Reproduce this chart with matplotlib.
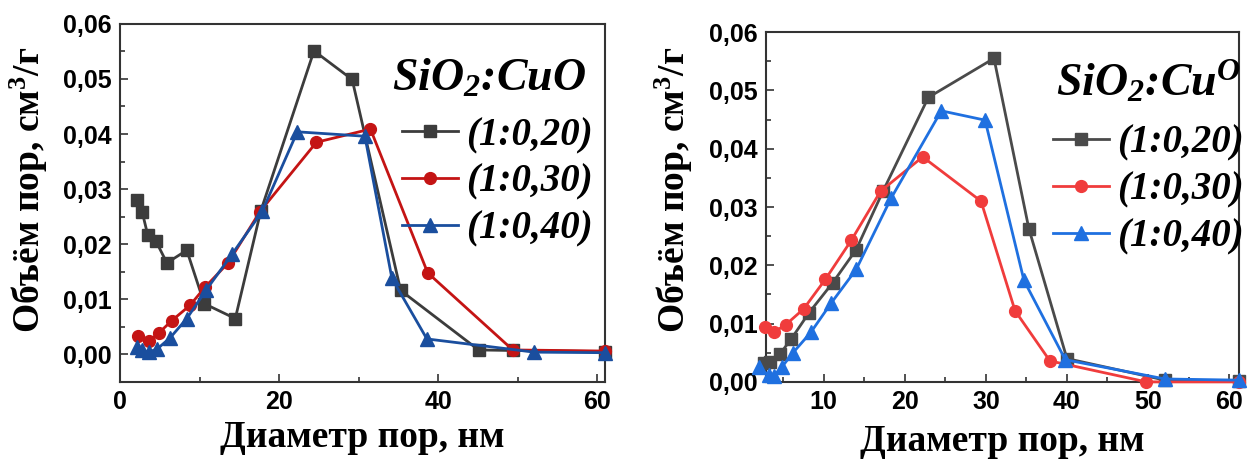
import matplotlib
matplotlib.use("Agg")
import matplotlib.pyplot as plt
from matplotlib.font_manager import FontProperties
from matplotlib.ticker import MultipleLocator

plt.rcParams['mathtext.fontset'] = 'custom'
plt.rcParams['mathtext.rm'] = 'Liberation Serif:bold:italic'
plt.rcParams['mathtext.it'] = 'Liberation Serif:bold:italic'
plt.rcParams['mathtext.bf'] = 'Liberation Serif:bold'

labels = ['(1:0,20)', '(1:0,30)', '(1:0,40)']

# left panel: SiO2:CuO
cuo_x20 = [2.2, 2.8, 3.5, 4.5, 5.9, 8.4, 10.6, 14.5, 17.7, 24.4, 29.2, 35.3, 45.1, 49.4, 61.0]
cuo_y20 = [0.0280, 0.0258, 0.0216, 0.0206, 0.0166, 0.0189, 0.0092, 0.0065, 0.0260, 0.0551,
           0.0499, 0.0116, 0.0008, 0.0007, 0.0005]
cuo_x30 = [2.3, 3.6, 4.9, 6.5, 8.8, 10.7, 13.6, 17.6, 24.7, 31.5, 38.7, 49.4, 61.0]
cuo_y30 = [0.0033, 0.0024, 0.0039, 0.0061, 0.0089, 0.0122, 0.0166, 0.0259, 0.0385, 0.0409,
           0.0148, 0.0008, 0.0006]
cuo_x40 = [2.1, 2.8, 3.6, 4.7, 6.3, 8.4, 10.8, 14.1, 17.9, 22.3, 30.8, 34.2, 38.6, 52.1, 61.0]
cuo_y40 = [0.0013, 0.0007, 0.0004, 0.0010, 0.0030, 0.0065, 0.0116, 0.0182, 0.0260, 0.0404,
           0.0396, 0.0138, 0.0028, 0.0004, 0.0003]

# right panel: SiO2:Cu0
cu_x20 = [2.6, 3.4, 4.6, 6.0, 8.2, 11.1, 14.0, 17.3, 22.9, 31.0, 35.3, 40.0, 52.1, 61.2]
cu_y20 = [0.0033, 0.0034, 0.0048, 0.0074, 0.0119, 0.0170, 0.0227, 0.0327, 0.0488, 0.0555,
          0.0263, 0.0040, 0.0003, 0.0002]
cu_x30 = [2.7, 3.8, 5.3, 7.5, 10.2, 13.4, 17.0, 22.2, 29.4, 33.6, 37.9, 49.8, 61.2]
cu_y30 = [0.0094, 0.0085, 0.0098, 0.0125, 0.0176, 0.0243, 0.0327, 0.0386, 0.0310, 0.0122,
          0.0036, 0.0000, 0.0000]
cu_x40 = [2.0, 3.2, 3.8, 4.8, 6.2, 8.4, 10.9, 14.0, 18.3, 24.5, 29.9, 34.7, 39.8, 52.1, 61.2]
cu_y40 = [0.0026, 0.0011, 0.0010, 0.0025, 0.0050, 0.0085, 0.0135, 0.0193, 0.0315, 0.0465,
          0.0449, 0.0174, 0.0038, 0.0005, 0.0003]

left_colors = ['#3c3c3c', '#c41414', '#1a4e9e']
right_colors = ['#4a4a4a', '#f03c3c', '#1f70e0']
markers = ['s', 'o', '^']
msizes = [8, 8.5, 9.5]

tick_fp = FontProperties(family='Liberation Sans', weight='bold', size=18)
label_font = dict(family='Liberation Serif', weight='bold', size=27)
ylabel_text = r'Объём пор, см$^\mathbf{3}$/г'

fig = plt.figure(figsize=(12.5, 4.59), dpi=100)
ax1 = fig.add_axes([0.096, 0.168, 0.388, 0.780])
ax2 = fig.add_axes([0.613, 0.168, 0.378, 0.762])


def draw(ax, xs, ys, colors, title, xlim, ylim, xmaj, xmin, title_xy, leg_xy, ylab_xy, xpad):
    for x, y, c, m, ms, lab in zip(xs, ys, colors, markers, msizes, labels):
        ax.plot(x, y, color=c, marker=m, markersize=ms, linewidth=2.0, label=lab,
                clip_on=False, zorder=3)
    ax.set_xlim(*xlim)
    ax.set_ylim(*ylim)
    ax.xaxis.set_major_locator(MultipleLocator(xmaj))
    ax.xaxis.set_minor_locator(MultipleLocator(xmin))
    ax.yaxis.set_major_locator(MultipleLocator(0.01))
    ax.yaxis.set_minor_locator(MultipleLocator(0.005))
    yt = [v for v in ax.get_yticks() if ylim[0] - 1e-9 <= v <= ylim[1] + 1e-9]
    ax.set_yticks(yt)
    ax.set_yticklabels([f'{v:.2f}'.replace('.', ',') for v in yt])
    ax.tick_params(which='both', direction='in', width=1.2, colors='#333333')
    ax.tick_params(which='major', length=6)
    ax.tick_params(which='minor', length=3.5)
    ax.tick_params(labelcolor='black', pad=6)
    for lbl in ax.get_xticklabels() + ax.get_yticklabels():
        lbl.set_fontproperties(tick_fp)
    for s in ax.spines.values():
        s.set_linewidth(1.5)
        s.set_color('#333333')
    ax.set_xlabel('Диаметр пор, нм', labelpad=xpad, **label_font)
    ax.set_ylabel(ylabel_text, **label_font)
    ax.yaxis.set_label_coords(*ylab_xy)
    ax.text(title_xy[0], title_xy[1], title, transform=ax.transAxes, ha='right', va='center',
            family='Liberation Serif', weight='bold', style='italic', size=33)
    ax.legend(loc='upper right', bbox_to_anchor=leg_xy, frameon=False,
              handlelength=1.45, handletextpad=0.2, labelspacing=0.25, borderaxespad=0,
              borderpad=0,
              prop=dict(family='Liberation Serif', weight='bold', style='italic', size=28))


draw(ax1, [cuo_x20, cuo_x30, cuo_x40], [cuo_y20, cuo_y30, cuo_y40], left_colors,
     'SiO$_2$:CuO', (0, 61), (-0.005, 0.06), 20, 10,
     (0.962, 0.845), (0.975, 0.74), (-0.145, 0.536), 4)
draw(ax2, [cu_x20, cu_x30, cu_x40], [cu_y20, cu_y30, cu_y40], right_colors,
     'SiO$_2$:Cu$^O$', (2.9, 61.2), (0, 0.06), 10, 5,
     (1.005, 0.857), (1.01, 0.735), (-0.15, 0.55), 7)

fig.savefig('out.png', dpi=100)
